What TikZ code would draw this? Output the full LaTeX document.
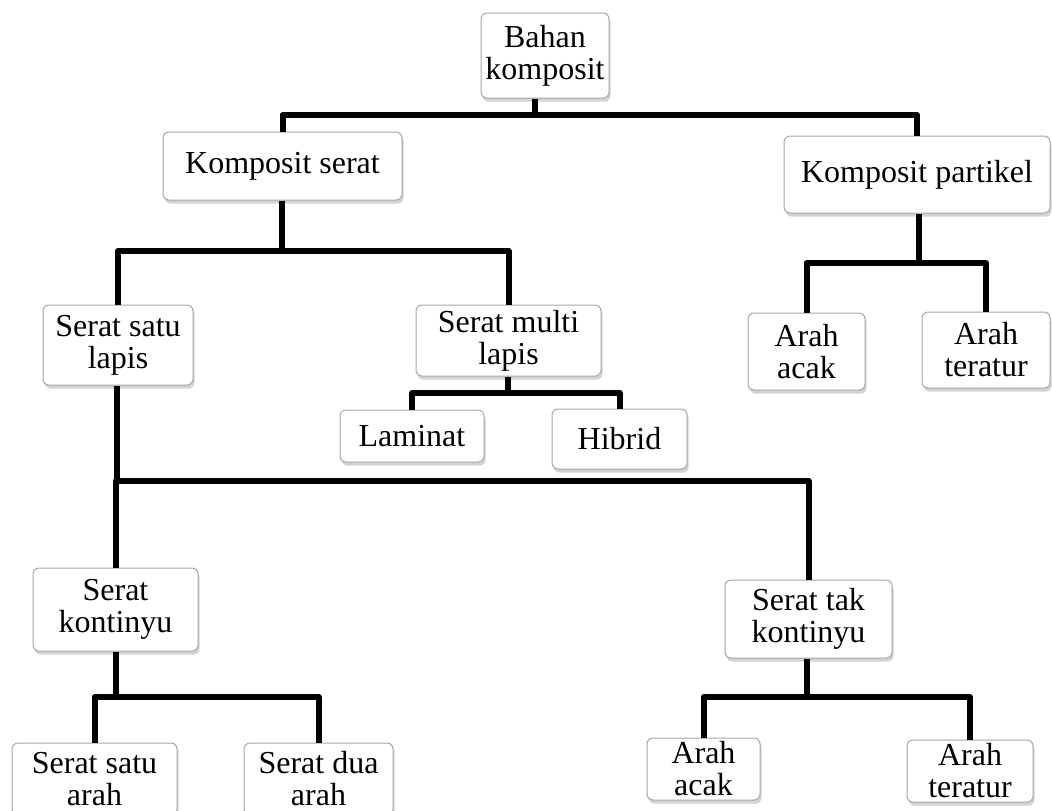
\documentclass[tikz,border=0pt]{standalone}
\usepackage{fontspec}
\setmainfont{Liberation Serif}
\usetikzlibrary{shadows}

\tikzset{
  kotak/.style={draw=gray!70, line width=0.5pt, rounded corners=3pt, fill=white,
    align=center, inner sep=0pt,
    font=\fontsize{16}{16}\selectfont,
    drop shadow={shadow xshift=0.8pt, shadow yshift=-1.8pt, opacity=0.35}},
  garis/.style={line width=3pt, line join=round}
}

\begin{document}
\begin{tikzpicture}[x=0.5pt, y=-0.5pt]
\useasboundingbox (0,0) rectangle (1052,810);
\clip (0,0) rectangle (1052,810);

% kotak-kotak
\node(B) [kotak, minimum width=64pt, minimum height=42.5pt] at (545,55.5) {Bahan\\komposit};
\node(KS) [kotak, minimum width=119.5pt, minimum height=34pt] at (282.5,166) {Komposit serat};
\node(KP) [kotak, minimum width=133pt, minimum height=38.5pt] at (917,174.5) {Komposit partikel};
\node(SL) [kotak, minimum width=75pt, minimum height=40pt] at (118,345) {Serat satu\\lapis};
\node(SM) [kotak, minimum width=92.5pt, minimum height=35.5pt] at (508.5,340.5) {Serat multi\\lapis};
\node(LA) [kotak, minimum width=72pt, minimum height=26pt] at (412,436) {Laminat};
\node(HI) [kotak, minimum width=67.5pt, minimum height=30pt] at (619.5,439) {Hibrid};
\node(AA1) [kotak, minimum width=58.5pt, minimum height=38.5pt] at (806.5,351.5) {Arah\\acak};
\node(AT1) [kotak, minimum width=64pt, minimum height=38pt] at (986,350) {Arah\\teratur};
\node(SK) [kotak, minimum width=82.5pt, minimum height=41.5pt] at (115.5,609.5) {Serat\\kontinyu};
\node(STK) [kotak, minimum width=83.5pt, minimum height=39pt] at (808.5,619) {Serat tak\\kontinyu};
\node(SSA) [kotak, minimum width=82.5pt, minimum height=36pt] at (94.5,779) {Serat satu\\arah};
\node(SDA) [kotak, minimum width=74.5pt, minimum height=36pt] at (318.5,779) {Serat dua\\arah};
\node(AA2) [kotak, minimum width=56.5pt, minimum height=31pt] at (703.5,769) {Arah\\acak};
\node(AT2) [kotak, minimum width=63pt, minimum height=31pt] at (970,771) {Arah\\teratur};

% titik cabang
\coordinate (j0) at (535,115);
\coordinate (j1) at (282,251);
\coordinate (j2) at (508,393);
\coordinate (j3) at (919,263);
\coordinate (j4) at (117,481);
\coordinate (j5) at (116,697);
\coordinate (j6) at (807,697);

% garis
\draw[garis] (B.south -| j0) -- (j0) -| (KS.north);
\draw[garis] (j0) -| (KP.north);
\draw[garis] (KS.south -| j1) -- (j1) -| (SL.north);
\draw[garis] (j1) -| (SM.north);
\draw[garis] (SM.south -| j2) -- (j2) -| (LA.north);
\draw[garis] (j2) -| (HI.north);
\draw[garis] (KP.south -| j3) -- (j3) -| (AA1.north);
\draw[garis] (j3) -| (AT1.north);
\draw[garis] (SL.south -| j4) -- (j4) -| (SK.north);
\draw[garis] (j4) -| (STK.north);
\draw[garis] (SK.south -| j5) -- (j5) -| (SSA.north);
\draw[garis] (j5) -| (SDA.north);
\draw[garis] (STK.south -| j6) -- (j6) -| (AA2.north);
\draw[garis] (j6) -| (AT2.north);
\end{tikzpicture}
\end{document}
